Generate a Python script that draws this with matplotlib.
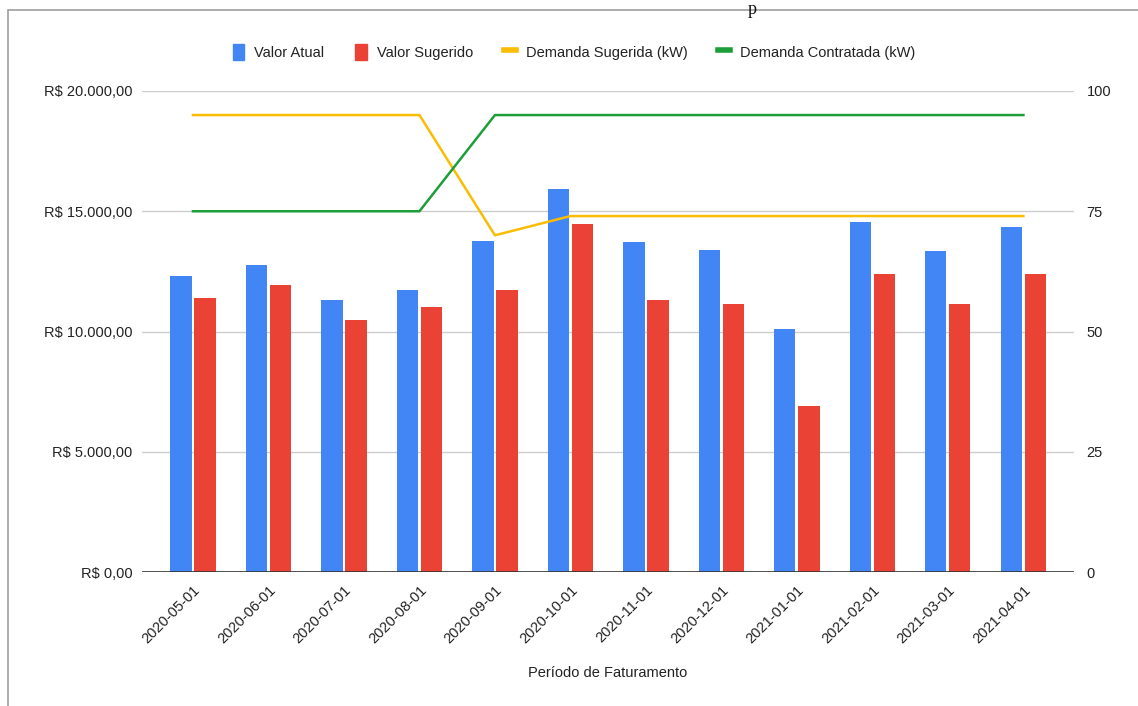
import matplotlib.pyplot as plt
from matplotlib.lines import Line2D
from matplotlib.patches import Patch, Rectangle
import numpy as np

plt.rcParams['font.family'] = ['Liberation Sans', 'DejaVu Sans']

# billing periods and values
periodos = ['2020-05-01', '2020-06-01', '2020-07-01', '2020-08-01',
            '2020-09-01', '2020-10-01', '2020-11-01', '2020-12-01',
            '2021-01-01', '2021-02-01', '2021-03-01', '2021-04-01']
valor_atual = [12310, 12780, 11310, 11730, 13780, 15910,
               13730, 13400, 10090, 14550, 13350, 14350]
valor_sugerido = [11400, 11950, 10470, 11010, 11740, 14460,
                  11310, 11160, 6900, 12400, 11160, 12400]
demanda_sugerida = [95, 95, 95, 95, 70, 74, 74, 74, 74, 74, 74, 74]
demanda_contratada = [75, 75, 75, 75, 95, 95, 95, 95, 95, 95, 95, 95]

azul = '#4285F4'
vermelho = '#EA4335'
amarelo = '#FBBC04'
verde = '#1E9E3A'
texto = '#222222'

fig = plt.figure(figsize=(11.38, 7.06), dpi=100)
ax = fig.add_axes([142 / 1138, 1 - 572 / 706, 932 / 1138, 481 / 706])
ax2 = ax.twinx()

x = np.arange(len(periodos))
larg = 0.28
ax.bar(x - 0.159, valor_atual, larg, color=azul, zorder=3)
ax.bar(x + 0.159, valor_sugerido, larg, color=vermelho, zorder=3)

ax2.plot(x, demanda_sugerida, color=amarelo, lw=1.8, zorder=4)
ax2.plot(x, demanda_contratada, color=verde, lw=1.8, zorder=4)

ax.set_xlim(-0.675, 11.67)
ax.set_ylim(0, 20000)
ax2.set_ylim(0, 100)

ax.set_yticks([0, 5000, 10000, 15000, 20000])
ax.set_yticklabels(['R$ 0,00', 'R$ 5.000,00', 'R$ 10.000,00',
                    'R$ 15.000,00', 'R$ 20.000,00'])
ax2.set_yticks([0, 25, 50, 75, 100])
ax2.set_yticklabels(['0', '25', '50', '75', '100'])

ax.set_xticks(x)
ax.set_xticklabels(periodos, rotation=45, ha='right', rotation_mode='anchor')

for a in (ax, ax2):
    for s in a.spines.values():
        s.set_visible(False)
    a.tick_params(length=0, labelsize=10.5, labelcolor=texto)
ax.tick_params(axis='y', pad=7)
ax2.tick_params(axis='y', pad=9)
ax.tick_params(axis='x', pad=8)

ax.grid(axis='y', color='#cccccc', lw=1, zorder=0)
ax.axhline(0, color='#333333', lw=1.2, zorder=5)

ax.set_xlabel('Período de Faturamento', fontsize=10.5, color=texto, labelpad=14)

handles = [Patch(color=azul), Patch(color=vermelho),
           Line2D([], [], color=amarelo, lw=4),
           Line2D([], [], color=verde, lw=4)]
labels = ['Valor Atual', 'Valor Sugerido',
          'Demanda Sugerida (kW)', 'Demanda Contratada (kW)']
fig.legend(handles, labels, loc='center', bbox_to_anchor=(574 / 1138, 1 - 52 / 706),
           ncol=4, frameon=False, fontsize=10.5, handlelength=0.8, handleheight=1.3,
           handletextpad=0.7, columnspacing=2.1, labelcolor=texto)

# frame around the chart area
fig.patches.append(Rectangle((8 / 1138, -0.05), 1.2, 1 - 10 / 706 + 0.05,
                             transform=fig.transFigure, fill=False,
                             edgecolor='#9e9e9e', lw=1.2))
fig.text(752 / 1138, 0.999, 'p', family='Liberation Serif', fontsize=13,
         ha='center', va='top', color='#111111')

fig.savefig('out.png', dpi=100)
